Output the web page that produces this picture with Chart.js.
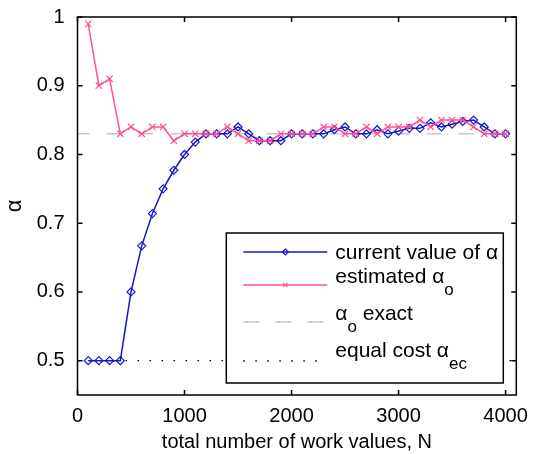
<!DOCTYPE html>
<html>
<head>
<meta charset="utf-8">
<script src="https://cdn.jsdelivr.net/npm/chart.js@4/dist/chart.umd.min.js"></script>
<style>
html, body { margin: 0; padding: 0; background: #fff; }
#wrap { width: 538px; height: 454px; }
</style>
</head>
<body>
<div id="wrap"><canvas id="chart1"></canvas></div>
<script>
const nValues = [100, 200, 300, 400, 500, 600, 700, 800, 900, 1000,
                 1100, 1200, 1300, 1400, 1500, 1600, 1700, 1800, 1900, 2000,
                 2100, 2200, 2300, 2400, 2500, 2600, 2700, 2800, 2900, 3000,
                 3100, 3200, 3300, 3400, 3500, 3600, 3700, 3800, 3900, 4000];
const currentAlpha = [0.5, 0.5, 0.5, 0.5, 0.6, 0.667, 0.714, 0.75, 0.777, 0.8,
                      0.818, 0.83, 0.83, 0.83, 0.84, 0.83, 0.82, 0.82, 0.82, 0.83,
                      0.83, 0.83, 0.83, 0.836, 0.84, 0.83, 0.83, 0.836, 0.83, 0.834,
                      0.838, 0.838, 0.846, 0.84, 0.844, 0.848, 0.85, 0.84, 0.83, 0.83];
const estimatedAlpha = [0.99, 0.9, 0.91, 0.83, 0.84, 0.83, 0.84, 0.84, 0.82, 0.83,
                        0.83, 0.83, 0.83, 0.84, 0.83, 0.82, 0.82, 0.82, 0.83, 0.83,
                        0.83, 0.83, 0.84, 0.84, 0.83, 0.83, 0.84, 0.83, 0.84, 0.84,
                        0.84, 0.85, 0.84, 0.85, 0.85, 0.85, 0.84, 0.83, 0.83, 0.83];
const alphaExact = 0.83;
const alphaEqualCost = 0.5;
const xRange = [0, 4100];
const yRange = [0.45, 1];
const xTicks = [0, 1000, 2000, 3000, 4000];
const yTicks = [0.5, 0.6, 0.7, 0.8, 0.9, 1];
const legendItems = [
    [{t: 'current value of α'}],
    [{t: 'estimated α'}, {t: 'o', sub: true}],
    [{t: 'α'}, {t: 'o', sub: true}, {t: ' exact'}],
    [{t: 'equal cost α'}, {t: 'ec', sub: true}]
];

const FONT = "'Liberation Sans', Arial, Helvetica, sans-serif";
const BLUE = '#1616c8';
const PINK = '#ff4f96';
const GRAY = '#c6c6c6';

// box + inward ticks on all four sides, like the matlab axes
const frameTicks = {
    id: 'frameTicks',
    afterDatasetsDraw(chart) {
        const {ctx, chartArea: a, scales: {x, y}} = chart;
        ctx.save();
        ctx.strokeStyle = '#000';
        ctx.lineWidth = 1.5;
        ctx.strokeRect(a.left, a.top, a.right - a.left, a.bottom - a.top);
        ctx.beginPath();
        xTicks.forEach(v => {
            const px = x.getPixelForValue(v);
            ctx.moveTo(px, a.bottom); ctx.lineTo(px, a.bottom - 5);
            ctx.moveTo(px, a.top); ctx.lineTo(px, a.top + 5);
        });
        yTicks.forEach(v => {
            const py = y.getPixelForValue(v);
            ctx.moveTo(a.left, py); ctx.lineTo(a.left + 5, py);
            ctx.moveTo(a.right, py); ctx.lineTo(a.right - 5, py);
        });
        ctx.stroke();
        ctx.restore();
    }
};

function diamond(ctx, x, y, r) {
    ctx.beginPath();
    ctx.moveTo(x, y - r); ctx.lineTo(x + r, y); ctx.lineTo(x, y + r); ctx.lineTo(x - r, y);
    ctx.closePath();
    ctx.stroke();
}
function cross(ctx, x, y, r) {
    ctx.beginPath();
    ctx.moveTo(x - r, y - r); ctx.lineTo(x + r, y + r);
    ctx.moveTo(x - r, y + r); ctx.lineTo(x + r, y - r);
    ctx.stroke();
}

const boxLegend = {
    id: 'boxLegend',
    afterDraw(chart) {
        const {ctx, chartArea: a} = chart;
        const w = 277, h = 150;
        const left = a.right - 13 - w, top = a.bottom - 12 - h;
        ctx.save();
        ctx.fillStyle = '#fff';
        ctx.fillRect(left, top, w, h);
        ctx.strokeStyle = '#000';
        ctx.lineWidth = 1.5;
        ctx.strokeRect(left, top, w, h);

        const lineY = [19, 52, 89, 128];
        const baseY = [26, 50, 87, 124];
        const x0 = left + 17, x1 = left + 101, xm = left + 59;
        const styles = [
            {c: BLUE, w: 1.5, dash: []},
            {c: PINK, w: 1.5, dash: []},
            {c: GRAY, w: 1.5, dash: [16, 16]},
            {c: '#000', w: 1.3, dash: [1.5, 10.5]}
        ];
        styles.forEach((s, i) => {
            const yy = top + lineY[i];
            ctx.strokeStyle = s.c;
            ctx.lineWidth = s.w;
            ctx.setLineDash(s.dash);
            ctx.beginPath();
            ctx.moveTo(x0, yy); ctx.lineTo(x1, yy);
            ctx.stroke();
            ctx.setLineDash([]);
            if (i === 0) { ctx.lineWidth = 1.2; diamond(ctx, xm, yy, 3); }
            if (i === 1) { ctx.lineWidth = 1.2; cross(ctx, xm, yy, 2.2); }
        });

        ctx.fillStyle = '#000';
        ctx.textBaseline = 'alphabetic';
        ctx.textAlign = 'left';
        legendItems.forEach((parts, i) => {
            let tx = left + 109;
            const by = top + baseY[i];
            parts.forEach(p => {
                ctx.font = (p.sub ? '17px ' : '21px ') + FONT;
                ctx.fillText(p.t, tx, p.sub ? by + 12 : by);
                tx += ctx.measureText(p.t).width;
            });
        });
        ctx.restore();
    }
};

const pts = ys => nValues.map((n, i) => ({x: n, y: ys[i]}));

new Chart(document.getElementById('chart1'), {
    type: 'line',
    data: {
        datasets: [{
            label: 'current value of α',
            data: pts(currentAlpha),
            borderColor: BLUE,
            borderWidth: 1.5,
            pointStyle: 'rectRot',
            pointRadius: 4,
            pointBorderWidth: 1.2,
            pointBorderColor: BLUE,
            pointBackgroundColor: 'rgba(0,0,0,0)',
            order: 1
        }, {
            label: 'estimated αo',
            data: pts(estimatedAlpha),
            borderColor: PINK,
            borderWidth: 1.5,
            pointStyle: 'crossRot',
            pointRadius: 4.5,
            pointBorderWidth: 1.2,
            pointBorderColor: PINK,
            order: 0
        }, {
            label: 'αo exact',
            data: [{x: xRange[0], y: alphaExact}, {x: xRange[1], y: alphaExact}],
            borderColor: GRAY,
            borderWidth: 1.5,
            borderDash: [15, 17],
            borderDashOffset: 3,
            pointRadius: 0,
            order: 2
        }, {
            label: 'equal cost αec',
            data: [{x: xRange[0], y: alphaEqualCost}, {x: xRange[1], y: alphaEqualCost}],
            borderColor: '#000',
            borderWidth: 1.3,
            borderDash: [1.5, 10.5],
            pointRadius: 0,
            order: 3
        }]
    },
    options: {
        responsive: true,
        maintainAspectRatio: false,
        animation: false,
        events: [],
        layout: {padding: {left: 0, right: 21.7, top: 15, bottom: 0}},
        elements: {line: {tension: 0}},
        plugins: {legend: {display: false}, tooltip: {enabled: false}},
        scales: {
            x: {
                type: 'linear',
                min: xRange[0], max: xRange[1],
                afterBuildTicks: s => { s.ticks = xTicks.map(v => ({value: v})); },
                afterFit: s => { s.height = 59; },
                grid: {display: false},
                border: {display: false},
                ticks: {color: '#000', padding: 1, font: {family: FONT, size: 20},
                        callback: v => String(v)},
                title: {display: true, text: 'total number of work values, N', color: '#000',
                        padding: {top: 0, bottom: 0}, font: {family: FONT, size: 20}}
            },
            y: {
                type: 'linear',
                min: yRange[0], max: yRange[1],
                afterBuildTicks: s => { s.ticks = yTicks.map(v => ({value: v})); },
                afterFit: s => { s.width = 77.5; },
                grid: {display: false},
                border: {display: false},
                ticks: {color: '#000', padding: 5, font: {family: FONT, size: 20},
                        callback: v => String(v)},
                title: {display: true, text: 'α', color: '#000',
                        padding: {top: 2, bottom: 0}, font: {family: FONT, size: 22}}
            }
        }
    },
    plugins: [frameTicks, boxLegend]
});
</script>
</body>
</html>
